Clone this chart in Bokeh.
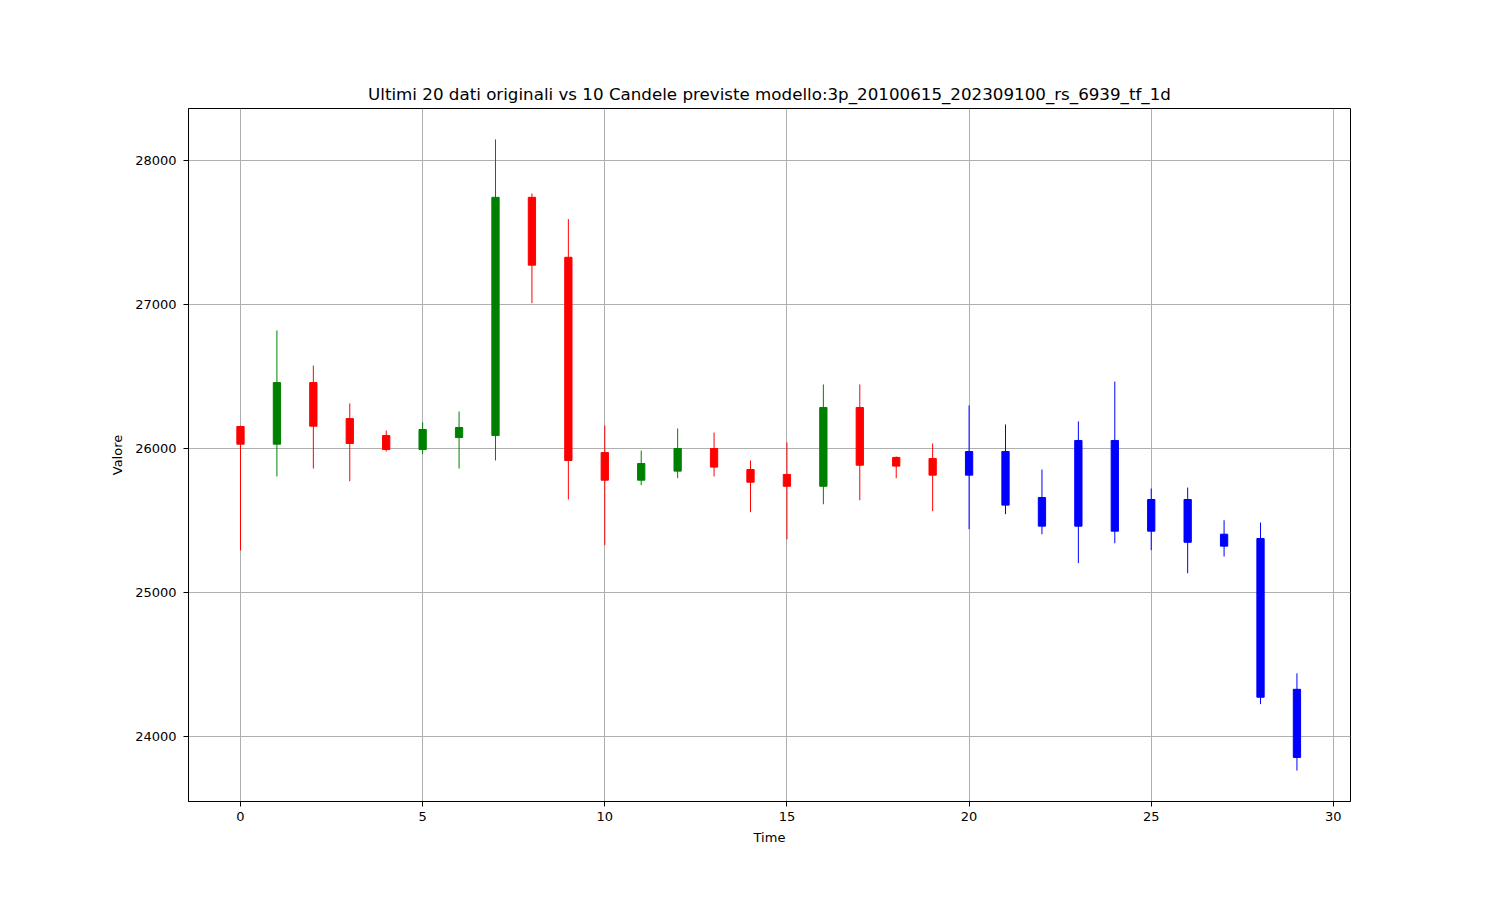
from bokeh.plotting import figure
from bokeh.models import ColumnDataSource, FixedTicker, BasicTickFormatter, Range1d
from bokeh.embed import file_html
from bokeh.resources import INLINE

# Original data (last 20 candles)
orig_open  = [26155, 26032, 26460, 26210, 26092, 25995, 26078, 26092, 27746, 27330,
              25974, 25782, 25845, 26002, 25856, 25822, 25740, 26287, 25940, 25933]
orig_close = [26032, 26460, 26157, 26037, 25995, 26134, 26148, 27746, 27275, 25919,
              25782, 25898, 26002, 25873, 25768, 25740, 26287, 25886, 25880, 25817]
orig_high  = [26160, 26822, 26578, 26315, 26127, 26183, 26259, 28148, 27773, 27595,
              26162, 25988, 26141, 26113, 25919, 26044, 26447, 26447, 25947, 26037]
orig_low   = [25294, 25808, 25863, 25775, 25981, 25963, 25863, 25919, 27011, 25648,
              25331, 25747, 25796, 25808, 25560, 25372, 25615, 25643, 25796, 25567]

# Predicted candles (10)
pred_open  = [25981, 25981, 25662, 26058, 26058, 25648, 25648, 25407, 25377, 24330]
pred_close = [25817, 25609, 25463, 25463, 25428, 25428, 25351, 25324, 24275, 23857]
pred_high  = [26301, 26169, 25856, 26190, 26467, 25724, 25731, 25504, 25488, 24441]
pred_low   = [25442, 25546, 25407, 25206, 25344, 25296, 25136, 25252, 24227, 23766]

x_ticks = [0, 5, 10, 15, 20, 25, 30]
y_ticks = [24000, 25000, 26000, 27000, 28000]

title_text = "Ultimi 20 dati originali vs 10 Candele previste modello:3p_20100615_202309100_rs_6939_tf_1d"

FONT = "DejaVu Sans"

opens = orig_open + pred_open
closes = orig_close + pred_close
highs = orig_high + pred_high
lows = orig_low + pred_low
n_orig = len(orig_open)
xs = list(range(len(opens)))
colors = []
for i, (o, c) in enumerate(zip(opens, closes)):
    if i >= n_orig:
        colors.append("blue")
    elif c >= o:
        colors.append("green")
    else:
        colors.append("red")

src = ColumnDataSource(dict(
    x=xs,
    top=[max(o, c) for o, c in zip(opens, closes)],
    bottom=[min(o, c) for o, c in zip(opens, closes)],
    high=highs, low=lows, color=colors,
))

p = figure(
    width=1492, height=892,
    frame_width=1162, frame_height=693,
    min_border_left=188, min_border_right=142, min_border_top=108, min_border_bottom=91,
    x_range=Range1d(-1.427, 30.47), y_range=Range1d(23551, 28363),
    output_backend="svg", toolbar_location=None,
    title=title_text,
)

p.segment(x0="x", y0="low", x1="x", y1="high", line_color="color", line_width=1, source=src)
p.vbar(x="x", width=0.2, top="top", bottom="bottom", fill_color="color",
       line_color="color", line_width=1, source=src)

p.title.text_font = FONT
p.title.text_font_size = "16.7px"
p.title.text_font_style = "normal"
p.title.align = "center"
p.title.text_color = "black"

p.outline_line_color = "black"
p.outline_line_width = 1
p.outline_line_alpha = 1

for ax in (p.xaxis[0], p.yaxis[0]):
    ax.axis_line_color = "black"
    ax.major_tick_line_color = "black"
    ax.major_tick_out = 5
    ax.major_tick_in = 0
    ax.minor_tick_line_color = None
    ax.major_label_text_font = FONT
    ax.major_label_text_font_size = "13px"
    ax.major_label_text_color = "black"
    ax.axis_label_text_font = FONT
    ax.axis_label_text_font_size = "13px"
    ax.axis_label_text_font_style = "normal"
    ax.axis_label_text_color = "black"
    ax.major_label_standoff = 5

p.yaxis[0].major_label_standoff = 7
p.xaxis[0].ticker = FixedTicker(ticks=x_ticks)
p.yaxis[0].ticker = FixedTicker(ticks=y_ticks)
p.yaxis[0].formatter = BasicTickFormatter(use_scientific=False)
p.xaxis[0].axis_label = "Time"
p.yaxis[0].axis_label = "Valore"
p.xaxis[0].axis_label_standoff = 6
p.yaxis[0].axis_label_standoff = 7

for g in (p.xgrid[0], p.ygrid[0]):
    g.grid_line_color = "#b0b0b0"
    g.grid_line_width = 1
    g.grid_line_alpha = 1
p.xgrid[0].ticker = FixedTicker(ticks=x_ticks)
p.ygrid[0].ticker = FixedTicker(ticks=y_ticks)

p.background_fill_color = "white"
p.border_fill_color = "white"

open("out.html", "w").write(file_html(p, INLINE))
